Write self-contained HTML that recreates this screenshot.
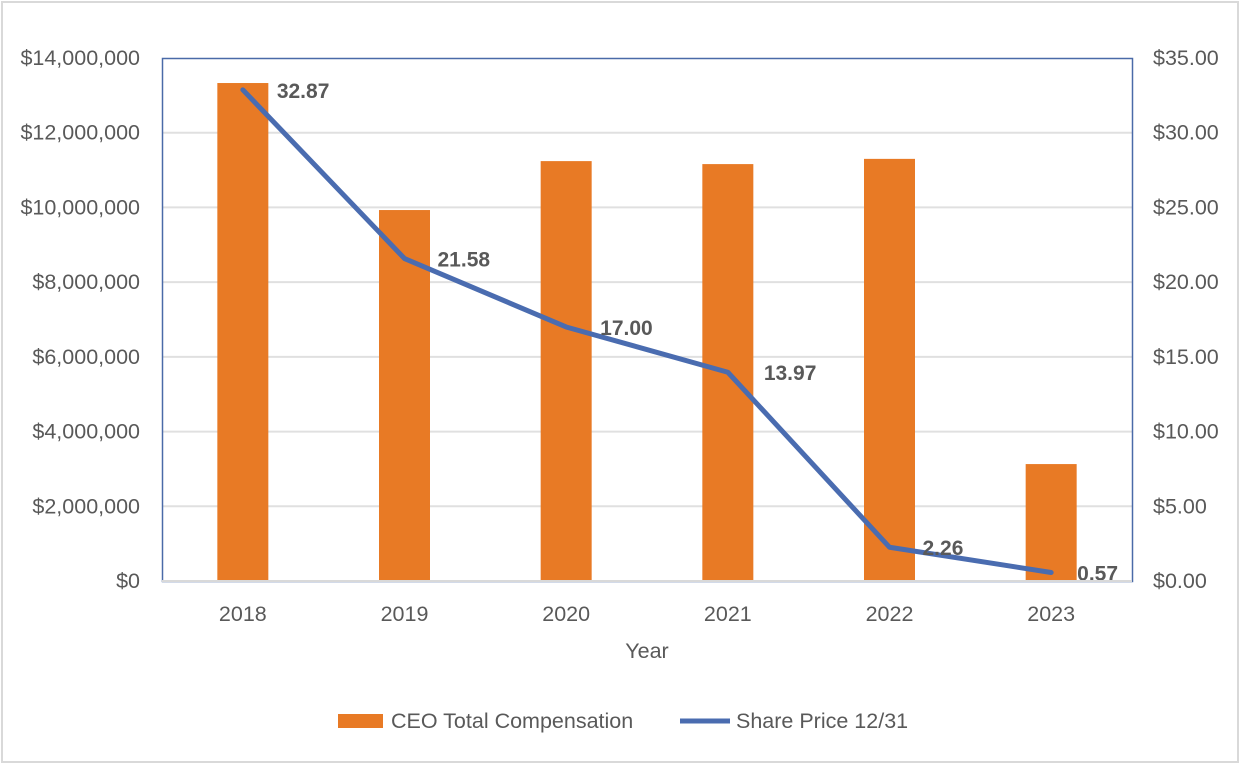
<!DOCTYPE html>
<html><head><meta charset="utf-8"><style>
body{margin:0;background:#fff;}
svg text{font-family:"Liberation Sans",sans-serif;}
</style></head><body>
<svg id="chart" width="1248" height="774" xmlns="http://www.w3.org/2000/svg">
<rect x="2" y="2" width="1236" height="760" fill="#fff" stroke="#d9d9d9" stroke-width="2"/>
<g id="grid"></g><g id="bars"></g><g id="line"></g><g id="labels"></g><g id="axes"></g>
<rect x="162.5" y="58.5" width="970" height="523" fill="none" stroke="#4a6aa8" stroke-width="1.5"/>
<line x1="162" y1="581" x2="1132" y2="581" stroke="#d9d9d9" stroke-width="2"/>
<text x="647" y="658" font-size="21.5" fill="#595959" text-anchor="middle">Year</text>
<g>
<rect x="338" y="714" width="45" height="14" fill="#e87a25"/>
<text x="391" y="728" font-size="21.5" fill="#595959">CEO Total Compensation</text>
<line x1="680" y1="721" x2="730" y2="721" stroke="#4a6cb0" stroke-width="5"/>
<text x="736" y="728" font-size="21.5" fill="#595959">Share Price 12/31</text>
</g>
</svg>
<script>
const categories=["2018","2019","2020","2021","2022","2023"];
const compensation=[13330000,9930000,11240000,11160000,11300000,3130000];
const sharePrice=[32.87,21.58,17.00,13.97,2.26,0.57];
const leftTicks=[0,2000000,4000000,6000000,8000000,10000000,12000000,14000000];
const rightTicks=[0,5,10,15,20,25,30,35];
const labelDx=[34,33,34,36,33,26];
const NS="http://www.w3.org/2000/svg";
const L=162,R=1132,T=58,B=581;
const bw=(R-L)/categories.length;
const xc=i=>L+bw*(i+0.5);
const yl=v=>B-(v/14000000)*(B-T);
const yr=v=>B-(v/35)*(B-T);
function mk(tag,attrs,parent,txt){const e=document.createElementNS(NS,tag);for(const k in attrs)e.setAttribute(k,attrs[k]);if(txt!==undefined)e.textContent=txt;document.getElementById(parent).appendChild(e);return e;}
leftTicks.forEach((v,i)=>{
 if(v>0&&v<14000000){const g=mk('line',{x1:L,x2:R,y1:yl(v),y2:yl(v),stroke:'#e0e0e0','stroke-width':2},'grid');
 
 }
 const t=mk('text',{x:140,y:yl(v)+7,'font-size':21.5,fill:'#595959','text-anchor':'end'},'axes','$'+v.toLocaleString('en-US'));
 
 
});
rightTicks.forEach(v=>{
 const t=mk('text',{x:1153,y:yr(v)+7,'font-size':21.5,fill:'#595959'},'axes','$'+v.toFixed(2));
 
 
});
categories.forEach((c,i)=>{
 const t=mk('text',{x:xc(i),y:621,'font-size':21.5,fill:'#595959','text-anchor':'middle'},'axes',c);
 
 
 const b=mk('rect',{x:xc(i)-25.5,y:yl(compensation[i]),width:51,height:B-yl(compensation[i]),fill:'#e87a25'},'bars');
 
 
});
const pts=sharePrice.map((v,i)=>xc(i)+','+yr(v)).join(' ');
const pl=mk('polyline',{points:pts,fill:'none',stroke:'#4a6cb0','stroke-width':5,'stroke-linecap':'round','stroke-linejoin':'round'},'line');


sharePrice.forEach((v,i)=>{
 const t=mk('text',{x:xc(i)+labelDx[i],y:yr(v)+8,'font-size':21,'font-weight':'bold',fill:'#595959'},'labels',v.toFixed(2));
 
 
});
</script>
</body></html>
